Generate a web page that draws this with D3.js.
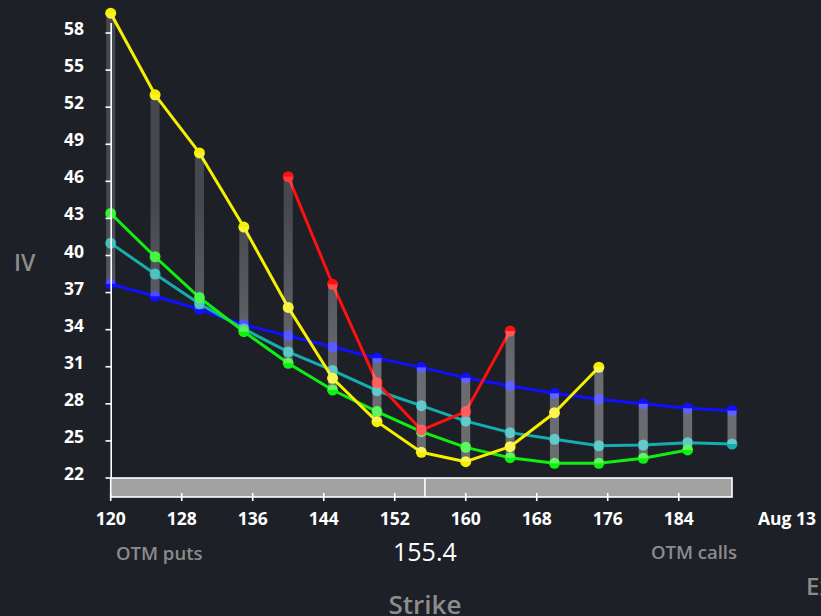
<!DOCTYPE html>
<html><head><meta charset="utf-8">
<script src="https://cdn.jsdelivr.net/npm/d3@7"></script>
<style>
html,body{margin:0;padding:0;background:#1d2027;}
svg{display:block;}
text{font-family:"Open Sans","DejaVu Sans",sans-serif;}
</style></head>
<body>
<svg id="c" width="821" height="616"></svg>
<script>
// ---- data ----
const strikes = [120,125,130,135,140,145,150,155,160,165,170,175,180,185,190];
const xTicks = [120,128,136,144,152,160,168,176,184];
const yTicks = [22,25,28,31,34,37,40,43,46,49,52,55,58];
const spot = 155.4;
const expLabel = "Aug 13";
// IV per series, aligned to strikes (null = no quote)
const blueIV   = [37.7,36.7,35.65,34.4,33.5,32.6,31.7,30.95,30.1,29.45,28.85,28.37,28.0,27.64,27.45];
const tealIV   = [41.0,38.5,36.1,34.06,32.2,30.7,29.06,27.85,26.6,25.67,25.13,24.61,24.67,24.86,24.75];
const greenIV  = [43.4,39.9,36.6,33.84,31.28,29.12,27.37,25.75,24.48,23.64,23.19,23.19,23.59,24.27,null];
const yellowIV = [59.6,53.0,48.3,42.3,35.8,30.07,26.56,24.08,23.32,24.53,27.28,30.96,null,null,null];
const redIV    = [null,null,null,null,46.38,37.67,29.71,25.88,27.37,33.89,null,null,null,null,null];

const series = [
  {name:"blue",   color:"#1010ff", values:blueIV},
  {name:"teal",   color:"#16adad", values:tealIV},
  {name:"green",  color:"#10f010", values:greenIV},
  {name:"yellow", color:"#f6f000", values:yellowIV},
  {name:"red",    color:"#ff1010", values:redIV}
];

// ---- layout ----
const svg = d3.select("#c");
const x = d3.scaleLinear().domain([120,190]).range([110.7,732]);
const y = d3.scaleLinear().domain([22,58]).range([478,33]);

// gradient for range bars
const defs = svg.append("defs");
const grad = defs.append("linearGradient").attr("id","barGrad")
  .attr("gradientUnits","userSpaceOnUse").attr("x1",0).attr("x2",0)
  .attr("y1",y(44)).attr("y2",y(30));
grad.append("stop").attr("offset","0").attr("stop-color","#fff").attr("stop-opacity",0.18);
grad.append("stop").attr("offset","1").attr("stop-color","#fff").attr("stop-opacity",0.34);

// lines and points
const line = d3.line().defined(d=>d.v!=null).x(d=>x(d.k)).y(d=>y(d.v));
series.forEach(s=>{
  const pts = strikes.map((k,i)=>({k, v:s.values[i]}));
  svg.append("path").datum(pts).attr("d",line)
    .attr("fill","none").attr("stroke",s.color).attr("stroke-width",3)
    .attr("stroke-linejoin","round");
  svg.append("g").selectAll("circle").data(pts.filter(d=>d.v!=null)).join("circle")
    .attr("cx",d=>x(d.k)).attr("cy",d=>y(d.v)).attr("r",5.5).attr("fill",s.color);
});

// range bars (drawn over the lines)
const ranges = strikes.map((k,i)=>{
  const vals = series.map(s=>s.values[i]).filter(v=>v!=null);
  return {k, lo:d3.min(vals), hi:d3.max(vals)};
});
svg.append("g").selectAll("rect").data(ranges).join("rect")
  .attr("x",d=>x(d.k)-4.5).attr("width",9)
  .attr("y",d=>y(d.hi)).attr("height",d=>y(d.lo)-y(d.hi))
  .attr("fill","url(#barGrad)");

// y axis
const yAxis = svg.append("g");
yAxis.append("line").attr("x1",111.2).attr("x2",111.2).attr("y1",y(58.8)).attr("y2",y(22))
  .attr("stroke","#fff").attr("stroke-width",1.6);
yAxis.selectAll("line.t").data(yTicks).join("line").attr("class","t")
  .attr("x1",105.5).attr("x2",111.2).attr("y1",d=>y(d)).attr("y2",d=>y(d))
  .attr("stroke","#fff").attr("stroke-width",1.6);
yAxis.selectAll("text").data(yTicks).join("text")
  .attr("x",84).attr("y",d=>y(d)+2).attr("text-anchor","end")
  .attr("fill","#fff").attr("font-size",17.5).attr("font-weight",700)
  .text(d=>d);

// x axis band
const band = svg.append("g");
band.append("rect").attr("x",x(120)).attr("y",y(22)).attr("width",x(190)-x(120)).attr("height",497-y(22))
  .attr("fill","#a2a2a2").attr("stroke","#fff").attr("stroke-width",1.6);
band.append("line").attr("x1",x(spot)).attr("x2",x(spot)).attr("y1",y(22)).attr("y2",497)
  .attr("stroke","#fff").attr("stroke-width",1.6);
band.selectAll("line.t").data(xTicks).join("line").attr("class","t")
  .attr("x1",d=>x(d)).attr("x2",d=>x(d)).attr("y1",493).attr("y2",501)
  .attr("stroke","#fff").attr("stroke-width",1.6);
band.selectAll("text").data(xTicks).join("text")
  .attr("x",d=>x(d)).attr("y",525).attr("text-anchor","middle")
  .attr("fill","#fff").attr("font-size",17.5).attr("font-weight",700)
  .text(d=>d);
svg.append("text").attr("x",758).attr("y",525).attr("fill","#fff")
  .attr("font-size",17.5).attr("font-weight",700).text(expLabel);

// labels
svg.append("text").attr("x",116).attr("y",560).attr("fill","#8c8c8c").attr("font-size",18.5).attr("font-weight",600).text("OTM puts");
svg.append("text").attr("x",737).attr("y",559).attr("text-anchor","end").attr("fill","#8c8c8c").attr("font-size",18.5).attr("font-weight",600).text("OTM calls");
svg.append("text").attr("x",x(spot)).attr("y",561).attr("text-anchor","middle").attr("fill","#fff").attr("font-size",25).attr("font-weight",500).text(spot);
svg.append("text").attr("x",x(spot)).attr("y",614).attr("text-anchor","middle").attr("fill","#8c8c8c").attr("font-size",26).attr("font-weight",600).text("Strike");
svg.append("text").attr("x",806).attr("y",595).attr("fill","#8c8c8c").attr("font-size",24).attr("font-weight",600).text("Expiration");
svg.append("text").attr("x",14).attr("y",271).attr("fill","#8c8c8c").attr("font-size",23).attr("font-weight",600).text("IV");
</script>
</body></html>
